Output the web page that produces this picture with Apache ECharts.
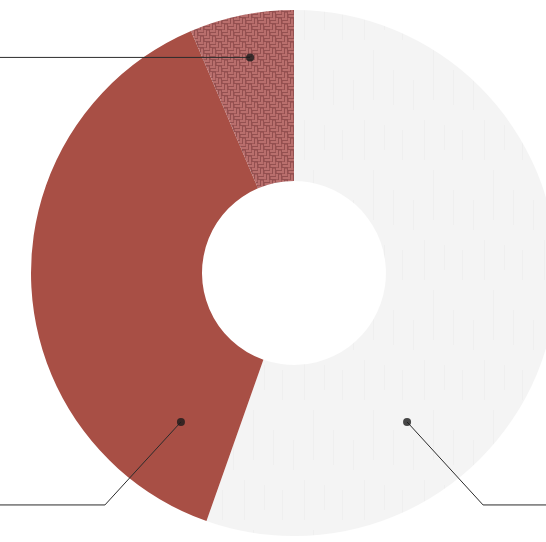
<!DOCTYPE html>
<html style="height: 100%">
<head>
<meta charset="utf-8">
<script src="https://cdn.jsdelivr.net/npm/echarts@6/dist/echarts.min.js"></script>
</head>
<body style="height: 100%; margin: 0">
<div id="container" style="width: 546px; height: 542px"></div>
<script type="text/javascript">
var names = ['Light', 'Red', 'Fabric'];
var values = [55.4, 38.2, 6.4];
// pointer dot inside each slice: radius (px) and angle (deg, clockwise from top)
var dotRadius = [187, 187, 220];
var dotAngle = [142.8, 217.2, 348.5];

var CX = 294, CY = 273, R0 = 92, R1 = 263;

function woodTexture() {
    var c = document.createElement('canvas');
    c.width = 60; c.height = 120;
    var g = c.getContext('2d');
    g.fillStyle = '#f4f4f4';
    g.fillRect(0, 0, 60, 120);
    g.fillStyle = '#efefef';
    [[4, 0, 1, 40], [13, 50, 1, 50], [24, 5, 1, 25], [33, 70, 1, 35],
     [42, 10, 1, 30], [53, 80, 1, 30]].forEach(function (s) {
        g.fillRect(s[0], s[1], s[2], s[3]);
    });
    return c;
}

function fabricTexture() {
    var c = document.createElement('canvas');
    c.width = 12; c.height = 12;
    var g = c.getContext('2d');
    g.fillStyle = '#a35959';
    g.fillRect(0, 0, 12, 12);
    var light = '#b96f6d', dark = '#935050';
    // basket weave: horizontal strands in two quadrants, vertical in the others
    [[0, 0], [6, 6]].forEach(function (q) {
        g.fillStyle = light; g.fillRect(q[0], q[1], 5, 2); g.fillRect(q[0] + 1, q[1] + 3, 5, 2);
        g.fillStyle = dark; g.fillRect(q[0], q[1] + 2, 6, 1); g.fillRect(q[0], q[1] + 5, 6, 1);
    });
    [[6, 0], [0, 6]].forEach(function (q) {
        g.fillStyle = light; g.fillRect(q[0], q[1], 2, 5); g.fillRect(q[0] + 3, q[1] + 1, 2, 5);
        g.fillStyle = dark; g.fillRect(q[0] + 2, q[1], 1, 6); g.fillRect(q[0] + 5, q[1], 1, 6);
    });
    return c;
}

var fills = [
    { image: woodTexture(), repeat: 'repeat' },
    '#a84f45',
    { image: fabricTexture(), repeat: 'repeat' }
];

function pieData(colorFn) {
    return names.map(function (n, i) {
        return { name: n, value: values[i], itemStyle: { color: colorFn(i) } };
    });
}

var myChart = echarts.init(document.getElementById('container'));

var option = {
    animation: false,
    backgroundColor: '#ffffff',
    polar: { center: [CX, CY], radius: R1 },
    angleAxis: { type: 'value', min: 0, max: 360, startAngle: 90, clockwise: true, show: false },
    radiusAxis: { type: 'value', min: 0, max: R1, show: false },
    series: [{
        // the visible donut
        type: 'pie',
        z: 2,
        center: [CX, CY],
        radius: [R0, R1],
        startAngle: 90,
        silent: true,
        emphasis: { disabled: true },
        label: { show: false },
        labelLine: { show: false },
        data: pieData(function (i) { return fills[i]; })
    }, {
        // transparent copy on top, only to carry the pointer lines
        type: 'pie',
        z: 4,
        center: [CX, CY],
        radius: [R0, R1],
        startAngle: 90,
        silent: true,
        emphasis: { disabled: true },
        data: pieData(function () { return 'rgba(0,0,0,0)'; }),
        label: { show: true, color: '#333', fontSize: 12 },
        labelLine: { show: true, showAbove: true, lineStyle: { color: '#2b2b2b', width: 1, opacity: 1 } },
        labelLayout: function (p) {
            var i = p.dataIndex;
            var a = dotAngle[i] * Math.PI / 180;
            var x0 = CX + dotRadius[i] * Math.sin(a);
            var y0 = CY - dotRadius[i] * Math.cos(a);
            var left = Math.sin(a) < 0;
            var x1 = x0, y1 = y0;
            if (y0 > CY) {
                x1 = x0 + (left ? -76 : 76);
                y1 = y0 + 83;
            }
            var x2 = left ? -40 : 590;
            return {
                x: x2 + (left ? -10 : 10),
                y: y1,
                align: left ? 'right' : 'left',
                verticalAlign: 'middle',
                labelLinePoints: [[x0, y0], [x1, y1], [x2, y1]]
            };
        }
    }, {
        type: 'scatter',
        coordinateSystem: 'polar',
        silent: true,
        z: 5,
        symbolSize: 8,
        itemStyle: { color: '#1a1a1a' },
        data: dotRadius.map(function (r, i) { return [r, dotAngle[i]]; })
    }]
};

myChart.setOption(option);
</script>
</body>
</html>
